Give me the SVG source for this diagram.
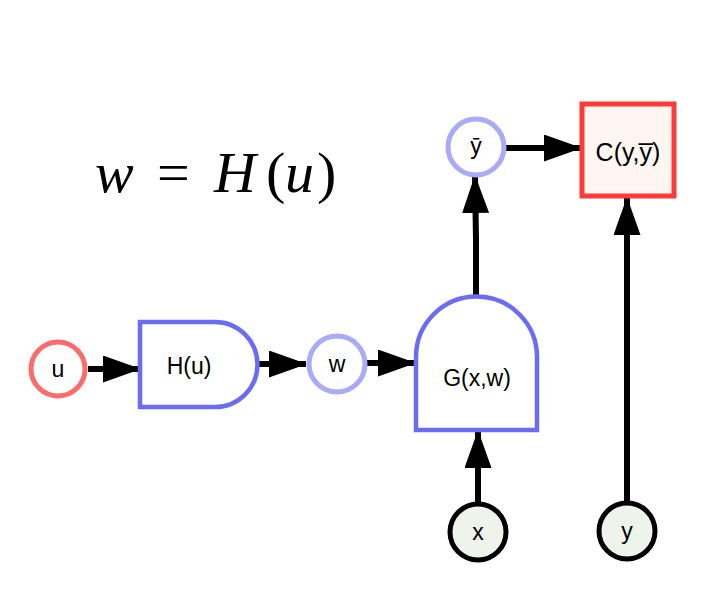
<svg xmlns="http://www.w3.org/2000/svg" width="724" height="612" viewBox="0 0 724 612">
<style>
.lbl{font-family:"Liberation Sans",Arial,sans-serif;font-size:23px;fill:#000;text-anchor:middle;dominant-baseline:central}
.math{font-family:"Liberation Serif","Times New Roman",serif;font-size:58px;fill:#000}
.edge{stroke:#000;stroke-width:6;fill:none}
.fn{fill:#fff;stroke:#6b6bf5;stroke-width:4.5}
.var{fill:#fff;stroke:#a9aaf8;stroke-width:5}
</style>
<defs>
<marker id="ah" markerUnits="userSpaceOnUse" viewBox="0 0 38 27" markerWidth="38" markerHeight="27" refX="37" refY="13.5" orient="auto">
<path d="M0,0 L38,13.5 L0,27 z" fill="#000"/>
</marker>
</defs>
<rect width="724" height="612" fill="#fff"/>
<text class="math" y="192"><tspan x="95" font-style="italic">w</tspan><tspan x="157">=</tspan><tspan x="214" font-style="italic">H</tspan><tspan x="266">(</tspan><tspan x="285" font-style="italic">u</tspan><tspan x="317">)</tspan></text>
<g id="connectors">
<line class="edge" x1="88" y1="369" x2="140" y2="369" marker-end="url(#ah)"/>
<line class="edge" x1="257" y1="364" x2="306" y2="364" marker-end="url(#ah)"/>
<line class="edge" x1="366" y1="363" x2="415" y2="363" marker-end="url(#ah)"/>
<path class="edge" d="M476,296 L476,240 L475,176" marker-end="url(#ah)"/>
<line class="edge" x1="505" y1="148" x2="581" y2="148" marker-end="url(#ah)"/>
<line class="edge" x1="478" y1="503" x2="478" y2="431" marker-end="url(#ah)"/>
<line class="edge" x1="627" y1="503" x2="627" y2="198" marker-end="url(#ah)"/>
</g>
<g id="u">
<circle cx="58" cy="369" r="27" fill="#fff" stroke="#fe6b6b" stroke-width="5"/>
<text class="lbl" x="58" y="369">u</text>
</g>
<g id="H">
<path class="fn" d="M140,322 L215,322 A42.5,42.5 0 0 1 215,407 L140,407 Z"/>
<text class="lbl" x="189" y="366">H(u)</text>
</g>
<g id="w">
<circle class="var" cx="337" cy="364" r="28"/>
<text class="lbl" x="337" y="364">w</text>
</g>
<g id="G">
<path class="fn" d="M416,430 L416,357 A60.5,60.5 0 0 1 537,357 L537,430 Z"/>
<text class="lbl" x="477" y="378">G(x,w)</text>
</g>
<g id="ybar">
<circle class="var" cx="476" cy="147" r="28"/>
<text class="lbl" x="476" y="146">ȳ</text>
</g>
<g id="C">
<rect x="582" y="104" width="92" height="92" fill="#fff6f2" stroke="#fe3b3b" stroke-width="5"/>
<text class="lbl" x="628" y="152" style="font-size:25px">C(y,y̅)</text>
</g>
<g id="x">
<circle cx="478" cy="532" r="28" fill="#eef3ec" stroke="#000" stroke-width="5"/>
<text class="lbl" x="478" y="532">x</text>
</g>
<g id="y">
<circle cx="627" cy="531" r="28" fill="#eef3ec" stroke="#000" stroke-width="5"/>
<text class="lbl" x="627" y="531">y</text>
</g>
</svg>
